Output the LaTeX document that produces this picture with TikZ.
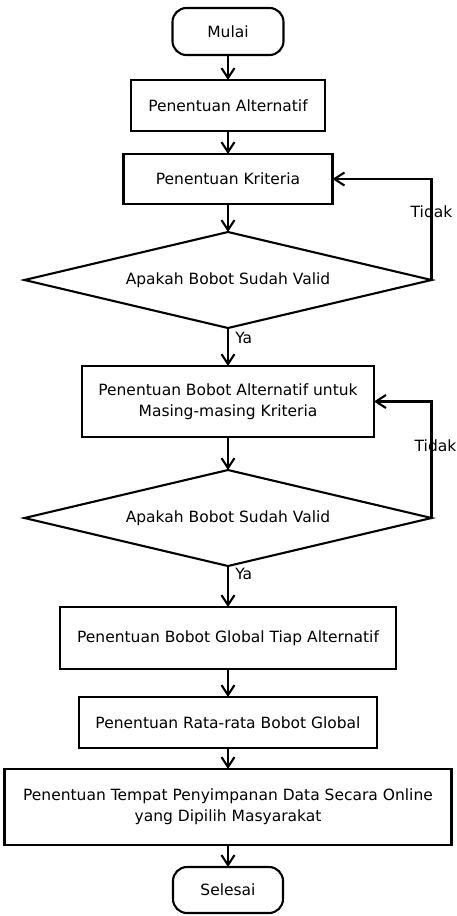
\documentclass[tikz,border=0pt]{standalone}
\usepackage{fontspec}
\setmainfont{DejaVu Sans}
\usetikzlibrary{positioning,shapes.geometric,arrows.meta}

\begin{document}
\begin{tikzpicture}[->,>={Straight Barb[length=10pt,width=13pt]},line width=2.1pt,
    node distance=25pt,font=\fontsize{15.5}{21}\selectfont,
    box node/.style={draw,rectangle,align=center,inner sep=0pt,outer sep=0pt},
    end node/.style={draw,rectangle,rounded corners=14pt,inner sep=0pt,outer sep=0pt},
    check node/.style={draw,diamond,aspect=4,inner sep=0pt,outer sep=0pt}]
    \useasboundingbox (0,0) rectangle (456pt,-916pt);
    \node[end node,minimum width=111pt,minimum height=47pt] (1) at (228pt,-31.5pt) {Mulai};
    \node[box node,minimum width=194pt,minimum height=51pt] (2) [below=25pt of 1] {Penentuan Alternatif};
    \node[box node,minimum width=209pt,minimum height=50pt] (3) [below=23pt of 2] {Penentuan Kriteria};
    \node[check node,minimum width=407pt,minimum height=96pt] (4) [below=28pt of 3] {Apakah Bobot Sudah Valid};
    \node[box node,minimum width=292pt,minimum height=71pt] (5) [below=38pt of 4] {Penentuan Bobot Alternatif untuk\\Masing-masing Kriteria};
    \node[check node,minimum width=407pt,minimum height=96pt] (6) [below=33pt of 5] {Apakah Bobot Sudah Valid};
    \node[box node,minimum width=336pt,minimum height=62pt] (7) [below=41pt of 6] {Penentuan Bobot Global Tiap Alternatif};
    \node[box node,minimum width=298pt,minimum height=51pt] (8) [below=28pt of 7] {Penentuan Rata-rata Bobot Global};
    \node[box node,minimum width=447pt,minimum height=76pt] (9) [below=21pt of 8] {Penentuan Tempat Penyimpanan Data Secara Online\\yang Dipilih Masyarakat};
    \node[end node,minimum width=110pt,minimum height=46pt] (10) [below=22pt of 9] {Selesai};

    \path
      (1) edge (2)
      (2) edge (3)
      (3) edge (4)
      (4) edge node[pos=0.25,right,xshift=3pt] {Ya} (5)
      (5) edge (6)
      (6) edge node[pos=0.2,right,xshift=3pt] {Ya} (7)
      (7) edge (8)
      (8) edge (9)
      (9) edge (10);
    \draw (4.east) |- node[pos=0.34] {Tidak} (3.east);
    \draw (6.east) |- node[pos=0.31,xshift=4pt] {Tidak} (5.east);
  \end{tikzpicture}
\end{document}
